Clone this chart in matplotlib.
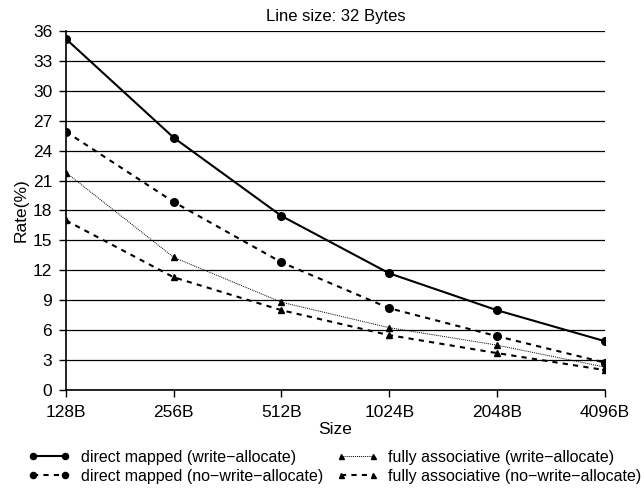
import matplotlib
matplotlib.use("Agg")
import matplotlib.pyplot as plt

plt.rcParams["font.family"] = ["Liberation Sans", "DejaVu Sans"]

sizes = ["128B", "256B", "512B", "1024B", "2048B", "4096B"]
dm_wa = [35.2, 25.3, 17.45, 11.7, 8.0, 4.9]
dm_nwa = [25.9, 18.85, 12.8, 8.2, 5.4, 2.75]
fa_wa = [21.8, 13.3, 8.8, 6.25, 4.5, 2.3]
fa_nwa = [17.0, 11.3, 8.0, 5.5, 3.7, 2.0]
yticks = list(range(0, 37, 3))

fig = plt.figure(figsize=(6.44, 4.91), dpi=100)
ax = fig.add_axes([0.1025, 0.2057, 0.8365, 0.7312])

x = range(len(sizes))
ax.plot(x, dm_wa, color="black", lw=1.5, ls="-", marker="o", ms=5.5,
        label="direct mapped (write\u2212allocate)")
ax.plot(x, dm_nwa, color="black", lw=1.5, ls=(0, (2.5, 2.5)), marker="o", ms=5.5,
        label="direct mapped (no\u2212write\u2212allocate)")
ax.plot(x, fa_wa, color="black", lw=0.7, ls=(0, (1, 1)), marker="^", ms=4.5,
        label="fully associative (write\u2212allocate)")
ax.plot(x, fa_nwa, color="black", lw=1.5, ls=(0, (2.5, 2.5)), marker="^", ms=4.5,
        label="fully associative (no\u2212write\u2212allocate)")

ax.set_xlim(0, len(sizes) - 1)
ax.set_ylim(0, 36)
ax.set_xticks(list(x))
ax.set_xticklabels(sizes, fontsize=12.5)
ax.set_yticks(yticks)
ax.set_yticklabels([str(v) for v in yticks], fontsize=12.5)
ax.yaxis.grid(True, color="black", lw=0.9)
ax.set_axisbelow(True)
for s in ["top", "right"]:
    ax.spines[s].set_visible(False)
ax.spines["left"].set_linewidth(1.2)
ax.spines["bottom"].set_linewidth(1.2)
ax.tick_params(axis="x", direction="out", length=5, width=1, pad=6)
ax.tick_params(axis="y", direction="out", length=5, width=1, pad=5)

ax.set_xlabel("Size", fontsize=12.5, labelpad=1.5)
ax.set_ylabel("Rate(%)", fontsize=12.5, labelpad=3)
ax.set_title("Line size: 32 Bytes", fontsize=12, pad=7)

h, l = ax.get_legend_handles_labels()
fig.legend(h, l, loc="lower center",
           bbox_to_anchor=(0.52, -0.015), ncol=2, frameon=False, fontsize=11.5,
           numpoints=2, markerscale=0.8, handlelength=2.6, columnspacing=0.8,
           labelspacing=0.25, handletextpad=0.7)

fig.savefig("out.png", dpi=100)
